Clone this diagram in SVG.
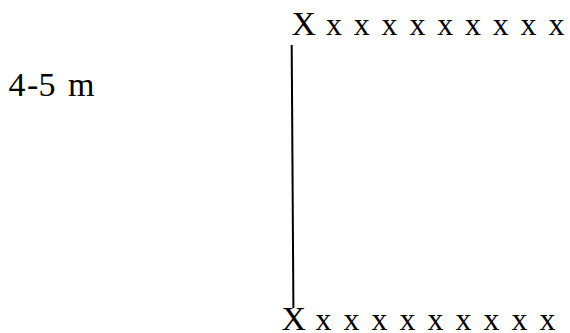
<svg xmlns="http://www.w3.org/2000/svg" width="570" height="333" viewBox="0 0 570 333">
<style>
.t{font-family:"Liberation Serif","Times New Roman",serif;fill:#000}
.big{font-size:34px}
.sm{font-size:32px}
.lbl{font-size:34px}
</style>
<rect width="570" height="333" fill="#fff"/>
<g id="connectors">
<line x1="291.7" y1="45" x2="293.4" y2="308" stroke="#000" stroke-width="2"/>
</g>
<g id="label">
<text class="t lbl" x="8.5 27 38.5 56 68" y="96">4-5 m</text>
</g>
<g id="top-row">
<text class="t big" x="291.5" y="34.5">X</text>
<text class="t sm" x="326 353.8 381.6 409.4 437.2 465 492.8 520.6 548.4" y="34.5">xxxxxxxxx</text>
</g>
<g id="bottom-row">
<text class="t big" x="281.5" y="330">X</text>
<text class="t sm" x="315.5 343.5 371.5 399.5 427.5 455.5 483.5 511.5 539.5" y="330">xxxxxxxxx</text>
</g>
</svg>
